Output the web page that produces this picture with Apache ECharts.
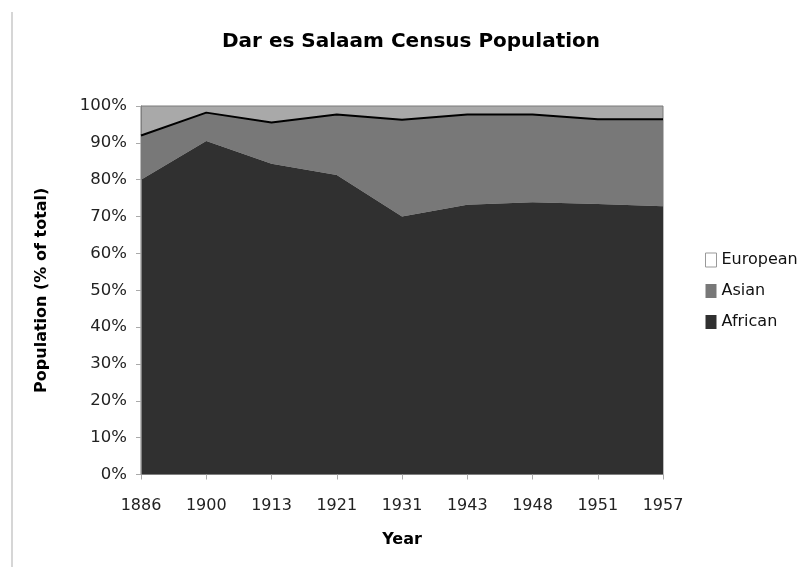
<!DOCTYPE html>
<html>
<head>
<meta charset="utf-8">
<title>Dar es Salaam Census Population</title>
<script src="https://cdn.jsdelivr.net/npm/echarts@6/dist/echarts.min.js"></script>
<style>
    html, body {
        margin: 0;
        padding: 0;
        background: #fff;
    }
    #chart {
        width: 803px;
        height: 567px;
    }
</style>
</head>
<body>
<div id="chart"></div>
<script>
// census years (evenly spaced categories)
var years = ['1886', '1900', '1913', '1921', '1931', '1943', '1948', '1951', '1957']
// share of total population, %
var african = [80.0, 90.5, 84.3, 81.3, 70.0, 73.2, 73.9, 73.4, 72.8]
var asian = [12.0, 7.7, 11.2, 16.4, 26.3, 24.5, 23.8, 23.0, 23.6]
var european = [8.0, 1.8, 4.5, 2.3, 3.7, 2.3, 2.5, 3.6, 3.6]
var legendNames = ['European', 'Asian', 'African']

var font = 'DejaVu Sans'

var myChart = echarts.init(document.getElementById('chart'))
var option = {
    animation: false,
    backgroundColor: '#fff',
    title: {
        text: 'Dar es Salaam Census Population',
        left: 222,
        top: 32,
        padding: 0,
        textStyle: {
            fontFamily: font,
            fontSize: 20,
            fontWeight: 'bold',
            color: '#000'
        }
    },
    legend: {
        orient: 'vertical',
        left: 705,
        top: 252,
        padding: 0,
        icon: 'rect',
        itemWidth: 11,
        itemHeight: 14,
        itemGap: 15,
        textStyle: {
            fontFamily: font,
            fontSize: 16,
            color: '#111'
        },
        data: [
            {name: legendNames[0], itemStyle: {color: '#fff', borderColor: '#999', borderWidth: 1}},
            {name: legendNames[1]},
            {name: legendNames[2]}
        ]
    },
    grid: {
        left: 141,
        right: 140,
        top: 106,
        bottom: 92.5,
        show: true,
        backgroundColor: '#a9a9a9',
        borderColor: '#7a7a7a',
        borderWidth: 1,
        outerBoundsMode: 'none'
    },
    xAxis: {
        type: 'category',
        boundaryGap: false,
        data: years,
        z: 3,
        name: 'Year',
        nameLocation: 'middle',
        nameGap: 57,
        nameTextStyle: {
            fontFamily: font,
            fontSize: 16,
            fontWeight: 'bold',
            color: '#000'
        },
        axisLine: {show: true, lineStyle: {color: '#808080', width: 1}},
        axisTick: {show: true, length: 5, lineStyle: {color: '#aaa'}},
        axisLabel: {
            margin: 23,
            fontFamily: font,
            fontSize: 16,
            color: '#222'
        },
        splitLine: {show: false}
    },
    yAxis: {
        type: 'value',
        min: 0,
        max: 100,
        interval: 10,
        z: 3,
        name: 'Population (% of total)',
        nameLocation: 'middle',
        nameGap: 91,
        nameTextStyle: {
            fontFamily: font,
            fontSize: 16,
            fontWeight: 'bold',
            color: '#000'
        },
        axisLine: {show: true, lineStyle: {color: '#808080', width: 1}},
        axisTick: {show: true, length: 5, lineStyle: {color: '#aaa'}},
        axisLabel: {
            margin: 14,
            formatter: '{value}%',
            fontFamily: font,
            fontSize: 16.5,
            color: '#222'
        },
        splitLine: {show: false}
    },
    series: [
        {
            name: 'African',
            type: 'line',
            stack: 'total',
            symbol: 'none',
            itemStyle: {color: '#303030'},
            lineStyle: {width: 0},
            areaStyle: {color: '#303030', opacity: 1},
            data: african
        },
        {
            name: 'Asian',
            type: 'line',
            stack: 'total',
            symbol: 'none',
            z: 4,
            itemStyle: {color: '#787878'},
            lineStyle: {width: 2, color: '#000'},
            areaStyle: {color: '#787878', opacity: 1},
            data: asian
        },
        {
            name: 'European',
            type: 'line',
            stack: 'total',
            symbol: 'none',
            itemStyle: {color: '#a9a9a9'},
            lineStyle: {width: 0},
            areaStyle: {color: '#a9a9a9', opacity: 0},
            data: european
        }
    ],
    graphic: [
        {
            type: 'line',
            shape: {x1: 12, y1: 12, x2: 12, y2: 567},
            style: {stroke: '#c8c8c8', lineWidth: 1.5}
        }
    ]
}
myChart.setOption(option)
</script>
</body>
</html>
